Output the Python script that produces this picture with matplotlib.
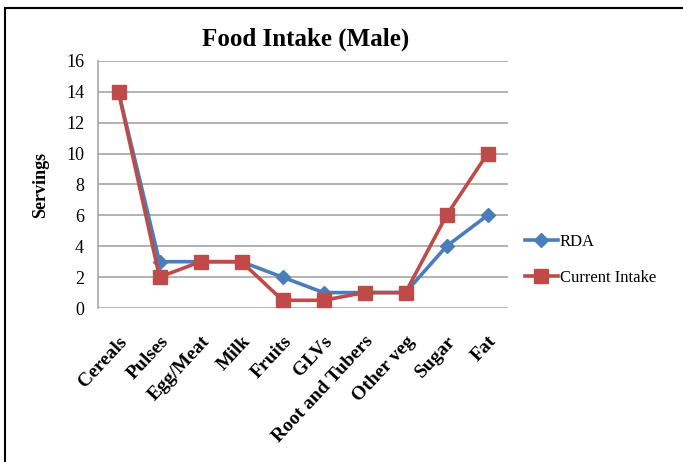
import matplotlib
matplotlib.use('Agg')
import matplotlib.pyplot as plt
from matplotlib.patches import Rectangle

foods = ['Cereals', 'Pulses', 'Egg/Meat', 'Milk', 'Fruits', 'GLVs',
         'Root and Tubers', 'Other veg', 'Sugar', 'Fat']
rda = [14, 3, 3, 3, 2, 1, 1, 1, 4, 6]
current = [14, 2, 3, 3, 0.5, 0.5, 1, 1, 6, 10]
yticks = [0, 2, 4, 6, 8, 10, 12, 14, 16]

plt.rcParams['font.family'] = ['Liberation Serif', 'DejaVu Serif']

fig = plt.figure(figsize=(6.83, 4.62), dpi=100)
ax = fig.add_axes([0.1435, 0.3333, 0.6003, 0.5347])

x = list(range(len(foods)))
ax.plot(x, rda, color='#4A7EBB', lw=2.6, marker='D', ms=7, label='RDA', zorder=3)
ax.plot(x, current, color='#BE4B48', lw=2.6, marker='s', ms=10,
        label='Current Intake', zorder=4)

ax.set_xlim(-0.5, len(foods) - 0.5)
ax.set_ylim(0, 16)
ax.set_yticks(yticks)
ax.set_xticks(x)
ax.set_xticklabels(foods, rotation=47, ha='right', rotation_mode='anchor',
                   fontsize=14, fontweight='bold')
ax.tick_params(axis='y', labelsize=13, length=0, pad=10)
ax.tick_params(axis='x', length=0, pad=18)
ax.yaxis.grid(True, color='#A6A6A6', lw=1.2)
ax.set_axisbelow(True)
for side in ['top', 'right', 'bottom']:
    ax.spines[side].set_visible(False)
ax.spines['left'].set_color('#A6A6A6')
ax.spines['left'].set_linewidth(1.2)

ax.set_ylabel('Servings', fontsize=13, fontweight='bold', labelpad=12)
fig.text(0.447, 0.915, 'Food Intake (Male)', ha='center', va='center',
         fontsize=18, fontweight='bold')

ax.legend(loc='center left', bbox_to_anchor=(1.02, 0.195), frameon=False,
          fontsize=12, handlelength=2.0, handletextpad=0.1, labelspacing=1.2,
          borderpad=0)

# outer frame
fig.patches.append(Rectangle((0.008, -0.05), 1.5, 1.033, transform=fig.transFigure,
                             fill=False, edgecolor='black', lw=1.5))

fig.savefig('out.png', dpi=100)
